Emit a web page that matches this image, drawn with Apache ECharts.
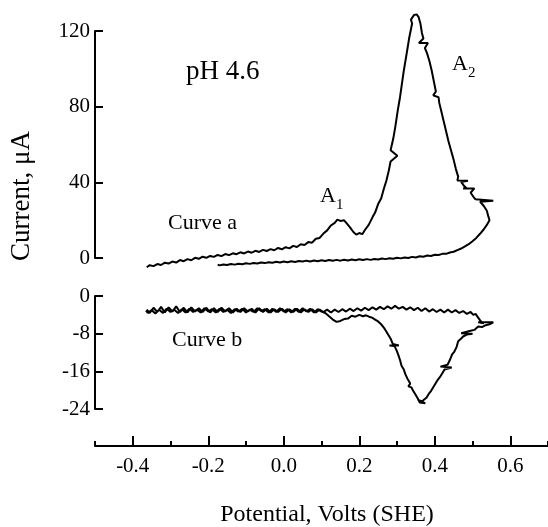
<!DOCTYPE html>
<html>
<head>
<meta charset="utf-8">
<script src="https://cdn.jsdelivr.net/npm/echarts@6/dist/echarts.min.js"></script>
<style>html,body{margin:0;padding:0;background:#fff}#c{width:548px;height:527px}</style>
</head>
<body>
<div id="c"></div>
<script>
// ---- data (Potential V vs Current uA) ----
var xTickLabels = [-0.4, -0.2, 0.0, 0.2, 0.4, 0.6];
var topTicks = [0, 40, 80, 120];
var bottomTicks = [-24, -16, -8, 0];

var curveAForward = [
[-0.363,-4.9],[-0.355,-3.8],[-0.345,-4.3],[-0.335,-3.2],[-0.325,-3.7],[-0.315,-2.5],[-0.305,-2.9],[-0.295,-1.9],[-0.285,-2.4],[-0.275,-1.1],[-0.265,-1.7],[-0.255,-0.6],[-0.245,-1.2],[-0.235,0.1],[-0.225,-0.4],[-0.215,0.7],[-0.205,0.1],[-0.195,1.1],[-0.185,0.6],[-0.175,1.6],[-0.165,1.0],[-0.155,2.1],[-0.145,1.5],[-0.135,2.5],[-0.125,2.0],[-0.115,3.0],[-0.105,2.4],[-0.095,3.4],[-0.085,2.8],[-0.075,3.8],[-0.065,3.2],[-0.055,4.3],[-0.045,3.7],[-0.035,4.7],[-0.025,4.1],[-0.015,5.3],[-0.005,4.6],[0.005,5.7],[0.015,5.1],[0.025,6.4],[0.035,5.8],[0.045,7.3],[0.055,6.9],[0.065,8.4],[0.075,8.1],[0.085,10.2],[0.095,10.6],[0.105,12.9],[0.115,14.6],[0.125,17.2],[0.135,18.6],[0.142,20.3],[0.15,19.6],[0.16,19.9],[0.168,18.0],[0.176,16.1],[0.185,13.6],[0.192,12.4],[0.2,13.2],[0.208,12.6],[0.215,14.8],[0.225,17.5],[0.235,21.5],[0.242,24.0],[0.25,28.5],[0.258,31.5],[0.265,36.5],[0.272,41],[0.278,46],[0.283,51],[0.301,54],[0.283,57],[0.29,63],[0.296,70],[0.302,78],[0.308,85],[0.313,92],[0.318,99],[0.323,105],[0.328,111],[0.332,116],[0.336,120],[0.34,124],[0.337,126],[0.345,128.5],[0.352,128.8],[0.357,127.5],[0.362,124],[0.366,119],[0.37,116],[0.358,113.7],[0.382,113.7],[0.374,111],[0.38,108],[0.386,104],[0.392,99],[0.398,93],[0.403,88],[0.396,86],[0.41,85],[0.412,82],[0.418,77],[0.424,72],[0.43,67],[0.436,62],[0.443,57],[0.45,52],[0.456,47],[0.462,43],[0.46,41],[0.488,40.8],[0.47,40.2],[0.478,38],[0.485,36.8],[0.475,36.8],[0.505,36.8],[0.495,34.5],[0.502,32.5],[0.508,31],[0.505,30.3],[0.555,30.3],[0.52,29.8],[0.53,27.5],[0.538,25],[0.542,22],[0.545,20]
];
var curveAReturn = [
[0.545,20],[0.538,17.5],[0.53,15.2],[0.52,12.8],[0.51,10.6],[0.5,8.9],[0.49,7.3],[0.48,6.1],[0.47,5.0],[0.46,4.2],[0.45,3.3],[0.44,2.9],[0.43,2.2],[0.42,2.2],[0.41,1.6],[0.4,1.7],[0.39,1.1],[0.38,1.3],[0.37,0.7],[0.36,0.9],[0.35,0.3],[0.34,0.6],[0.33,0.0],[0.32,0.3],[0.31,-0.2],[0.3,0.1],[0.29,-0.4],[0.28,-0.1],[0.27,-0.6],[0.26,-0.3],[0.25,-0.8],[0.24,-0.5],[0.23,-1.0],[0.22,-0.6],[0.21,-1.1],[0.2,-0.7],[0.19,-1.2],[0.18,-0.8],[0.17,-1.3],[0.16,-0.9],[0.15,-1.4],[0.14,-1.0],[0.13,-1.5],[0.12,-1.1],[0.11,-1.6],[0.1,-1.2],[0.09,-1.7],[0.08,-1.3],[0.07,-1.8],[0.06,-1.4],[0.05,-1.9],[0.04,-1.6],[0.03,-2.1],[0.02,-1.7],[0.01,-2.2],[0.0,-1.9],[-0.01,-2.4],[-0.02,-2.0],[-0.03,-2.5],[-0.04,-2.2],[-0.05,-2.7],[-0.06,-2.4],[-0.07,-2.9],[-0.08,-2.6],[-0.09,-3.1],[-0.1,-2.8],[-0.11,-3.3],[-0.12,-3.0],[-0.13,-3.5],[-0.14,-3.2],[-0.15,-3.7],[-0.16,-3.4],[-0.17,-3.9],[-0.175,-3.5]
];
var curveBForward = [
[-0.363,-2.9],[-0.355,-3.6],[-0.345,-2.5],[-0.335,-3.4],[-0.325,-2.3],[-0.315,-3.5],[-0.305,-2.4],[-0.295,-3.3],[-0.285,-2.2],[-0.275,-3.4],[-0.265,-2.5],[-0.255,-3.5],[-0.245,-2.4],[-0.235,-3.3],[-0.225,-2.6],[-0.215,-3.4],[-0.205,-2.5],[-0.195,-3.5],[-0.185,-2.6],[-0.175,-3.4],[-0.165,-2.5],[-0.155,-3.3],[-0.145,-2.6],[-0.135,-3.5],[-0.125,-2.7],[-0.115,-3.4],[-0.105,-2.6],[-0.095,-3.3],[-0.085,-2.7],[-0.075,-3.5],[-0.065,-2.6],[-0.055,-3.4],[-0.045,-2.7],[-0.035,-3.5],[-0.025,-2.8],[-0.015,-3.4],[-0.005,-2.7],[0.005,-3.5],[0.015,-2.8],[0.025,-3.4],[0.035,-2.7],[0.045,-3.5],[0.055,-2.8],[0.065,-3.4],[0.075,-2.8],[0.085,-3.5],[0.095,-2.9],[0.105,-3.4],[0.115,-2.9],[0.125,-3.5],[0.135,-2.9],[0.145,-3.4],[0.155,-2.8],[0.165,-3.3],[0.175,-2.7],[0.185,-3.2],[0.195,-2.6],[0.205,-3.1],[0.215,-2.5],[0.225,-3.0],[0.235,-2.4],[0.245,-2.9],[0.255,-2.3],[0.265,-2.8],[0.275,-2.2],[0.285,-2.7],[0.295,-2.1],[0.305,-2.7],[0.315,-2.3],[0.325,-2.9],[0.335,-2.4],[0.345,-3.0],[0.355,-2.5],[0.365,-3.2],[0.375,-2.6],[0.385,-3.3],[0.395,-2.8],[0.405,-3.4],[0.415,-2.9],[0.425,-3.5],[0.435,-2.9],[0.445,-3.5],[0.455,-3.0],[0.465,-3.6],[0.475,-3.2],[0.485,-3.8],[0.495,-3.4],[0.502,-4.0],[0.508,-3.8],[0.515,-4.6],[0.522,-5.4],[0.53,-5.8],[0.515,-5.6],[0.555,-5.6],[0.545,-6.0],[0.55,-6.3]
];
var curveBReturn = [
[0.55,-6.3],[0.535,-6.2],[0.525,-6.6],[0.515,-6.5],[0.505,-7.2],[0.495,-7.4],[0.47,-7.9],[0.5,-8.0],[0.485,-8.2],[0.475,-8.6],[0.468,-9.2],[0.462,-9.6],[0.458,-10.8],[0.452,-11.8],[0.446,-12.4],[0.44,-13.6],[0.434,-14.6],[0.415,-15.0],[0.445,-15.2],[0.426,-15.6],[0.42,-16.4],[0.414,-17.2],[0.408,-17.8],[0.402,-18.6],[0.396,-19.4],[0.39,-20.2],[0.384,-20.8],[0.378,-21.6],[0.372,-22.0],[0.366,-22.4],[0.355,-22.0],[0.375,-22.8],[0.36,-22.6],[0.354,-21.6],[0.348,-20.8],[0.342,-20.0],[0.338,-19.4],[0.33,-19.2],[0.335,-18.6],[0.328,-17.6],[0.322,-16.6],[0.318,-15.6],[0.312,-14.8],[0.308,-13.6],[0.303,-12.4],[0.298,-11.4],[0.293,-10.6],[0.28,-10.5],[0.305,-10.5],[0.289,-10.2],[0.284,-9.2],[0.278,-8.4],[0.272,-7.6],[0.266,-6.8],[0.258,-6.0],[0.25,-5.4],[0.242,-5.0],[0.234,-4.6],[0.226,-4.4],[0.218,-4.1],[0.21,-4.3],[0.2,-4.0],[0.19,-4.4],[0.18,-4.2],[0.17,-4.8],[0.16,-4.9],[0.15,-5.3],[0.14,-5.5],[0.13,-5.0],[0.12,-4.3],[0.11,-3.6],[0.1,-3.3],[0.09,-2.8],[0.08,-3.5],[0.07,-2.7],[0.06,-3.3],[0.05,-2.6],[0.04,-3.4],[0.03,-2.7],[0.02,-3.5],[0.01,-2.8],[0.0,-3.3],[-0.01,-2.6],[-0.02,-3.4],[-0.03,-2.7],[-0.04,-3.5],[-0.05,-2.8],[-0.06,-3.2],[-0.07,-2.6],[-0.08,-3.4],[-0.09,-2.9],[-0.1,-3.5],[-0.11,-2.7],[-0.12,-3.3],[-0.13,-2.8],[-0.14,-3.6],[-0.15,-2.9],[-0.16,-3.4],[-0.17,-2.7],[-0.18,-3.5],[-0.19,-2.8],[-0.2,-3.3],[-0.21,-2.6],[-0.22,-3.5],[-0.23,-2.9],[-0.24,-3.4],[-0.25,-2.7],[-0.26,-3.5],[-0.27,-2.8],[-0.28,-3.6],[-0.29,-2.9],[-0.3,-3.4],[-0.31,-2.7],[-0.32,-3.6],[-0.33,-2.9],[-0.34,-3.7],[-0.35,-3.0],[-0.36,-3.6],[-0.365,-3.1]
];

var FONT = '"Liberation Serif","Times New Roman",serif';
var chart = echarts.init(document.getElementById('c'), null, {renderer: 'canvas'});

function yAx(grid, min, max, ticks, interval) {
  return {
    type: 'value', gridIndex: grid, min: min, max: max, interval: interval,
    axisLine: {show: true, onZero: false, lineStyle: {color: '#000', width: 2}},
    axisTick: {show: true, inside: true, length: 8, lineStyle: {color: '#000', width: 2}, customValues: ticks},
    axisLabel: {color: '#000', fontFamily: FONT, fontSize: 21, margin: 5, customValues: ticks},
    splitLine: {show: false}
  };
}

var option = {
  animation: false,
  backgroundColor: '#fff',
  grid: [
    {left: 95, top: 31, width: 460, height: 227},
    {left: 95, top: 296, width: 460, height: 113},
    {left: 95, top: 296, width: 460, height: 113}
  ],
  xAxis: [
    {type: 'value', gridIndex: 0, min: -0.5, max: 0.7, show: false},
    {type: 'value', gridIndex: 1, min: -0.5, max: 0.7, position: 'bottom', offset: 37,
      axisLine: {show: true, onZero: false, lineStyle: {color: '#000', width: 2}},
      axisTick: {show: true, inside: true, length: 10, lineStyle: {color: '#000', width: 2}, customValues: xTickLabels},
      axisLabel: {color: '#000', fontFamily: FONT, fontSize: 21, margin: 10, customValues: xTickLabels,
        formatter: function (v) { return (Math.abs(v) < 1e-9 ? 0 : v).toFixed(1); }},
      splitLine: {show: false}},
    {type: 'value', gridIndex: 2, min: -0.5, max: 0.7, interval: 0.1, position: 'bottom', offset: 37,
      axisLine: {show: false, onZero: false},
      axisTick: {show: true, inside: true, length: 5, lineStyle: {color: '#000', width: 2}},
      axisLabel: {show: false}, splitLine: {show: false}}
  ],
  yAxis: [
    yAx(0, 0, 120, topTicks, 40),
    yAx(1, -24, 0, bottomTicks, 8),
    {type: 'value', gridIndex: 2, min: -24, max: 0, show: false}
  ],
  series: [
    {type: 'line', xAxisIndex: 0, yAxisIndex: 0, data: curveAForward.concat(curveAReturn),
      showSymbol: false, clip: false, lineStyle: {color: '#000', width: 2}},
    {type: 'line', xAxisIndex: 1, yAxisIndex: 1, data: curveBForward.concat(curveBReturn),
      showSymbol: false, clip: false, lineStyle: {color: '#000', width: 2}}
  ],
  graphic: [
    {type: 'text', left: 186, top: 58, style: {text: 'pH 4.6', font: '27px ' + FONT, fill: '#000'}},
    {type: 'text', left: 168, top: 212, style: {text: 'Curve a', font: '22px ' + FONT, fill: '#000'}},
    {type: 'text', left: 172, top: 329, style: {text: 'Curve b', font: '22px ' + FONT, fill: '#000'}},
    {type: 'text', left: 320, top: 185, style: {text: 'A', font: '22px ' + FONT, fill: '#000'}},
    {type: 'text', left: 336, top: 198, style: {text: '1', font: '15px ' + FONT, fill: '#000'}},
    {type: 'text', left: 452, top: 53, style: {text: 'A', font: '22px ' + FONT, fill: '#000'}},
    {type: 'text', left: 468, top: 66, style: {text: '2', font: '15px ' + FONT, fill: '#000'}},
    {type: 'text', x: 22, y: 196, rotation: Math.PI / 2,
      style: {text: 'Current, μA', font: '27px ' + FONT, fill: '#000', align: 'center', verticalAlign: 'middle'}},
    {type: 'text', x: 327, y: 515,
      style: {text: 'Potential, Volts (SHE)', font: '24px ' + FONT, fill: '#000', align: 'center', verticalAlign: 'middle'}}
  ]
};
chart.setOption(option);
</script>
</body>
</html>
